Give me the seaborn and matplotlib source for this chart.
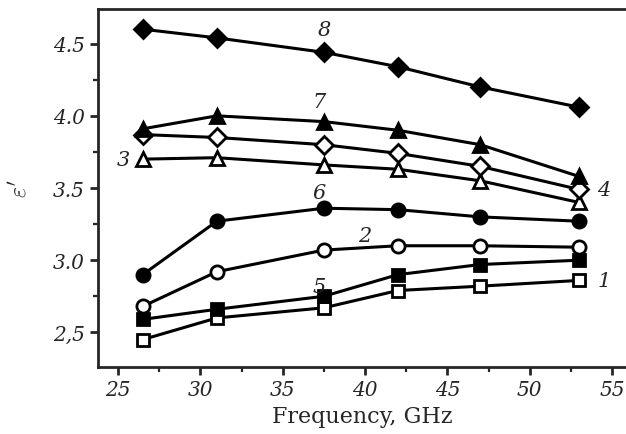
import pandas as pd
import seaborn as sns
import matplotlib.pyplot as plt
from matplotlib.ticker import MultipleLocator, FixedLocator, FixedFormatter

frequency = [26.5, 31.0, 37.5, 42.0, 47.0, 53.0]

eps_1 = [2.45, 2.60, 2.67, 2.79, 2.82, 2.86]
eps_2 = [2.68, 2.92, 3.07, 3.10, 3.10, 3.09]
eps_3 = [3.70, 3.71, 3.66, 3.63, 3.55, 3.40]
eps_4 = [3.87, 3.85, 3.80, 3.74, 3.65, 3.49]
eps_5 = [2.59, 2.66, 2.75, 2.90, 2.97, 3.00]
eps_6 = [2.90, 3.27, 3.36, 3.35, 3.30, 3.27]
eps_7 = [3.91, 4.00, 3.96, 3.90, 3.80, 3.58]
eps_8 = [4.60, 4.54, 4.44, 4.34, 4.20, 4.06]

series_names = ["1", "2", "3", "4", "5", "6", "7", "8"]
series_values = [eps_1, eps_2, eps_3, eps_4, eps_5, eps_6, eps_7, eps_8]

y_ticks = [2.5, 3.0, 3.5, 4.0, 4.5]
y_tick_labels = ["2,5", "3.0", "3.5", "4.0", "4.5"]
x_ticks = [25, 30, 35, 40, 45, 50, 55]

# marker shape and fill for each curve
styles = {
    "1": ("s", "white"), "2": ("o", "white"), "3": ("^", "white"), "4": ("D", "white"),
    "5": ("s", "black"), "6": ("o", "black"), "7": ("^", "black"), "8": ("D", "black"),
}
sizes = {"s": 8, "o": 9.5, "^": 10, "D": 9}

# curve number labels (data coords)
labels = {
    "8": (37.5, 4.60), "7": (37.2, 4.10), "3": (25.3, 3.70), "4": (54.5, 3.49),
    "6": (37.2, 3.47), "2": (40.0, 3.17), "5": (37.2, 2.82), "1": (54.5, 2.86),
}

rows = []
for name, vals in zip(series_names, series_values):
    for f, v in zip(frequency, vals):
        rows.append({"Frequency": f, "eps": v, "curve": name})
df = pd.DataFrame(rows)

sns.set_style("ticks")
plt.rcParams["font.family"] = ["DejaVu Serif"]
plt.rcParams["mathtext.fontset"] = "cm"

fig = plt.figure(figsize=(6.26, 4.35), dpi=100)
ax = fig.add_axes([0.157, 0.154, 0.843, 0.823])

for name in series_names:
    marker, face = styles[name]
    sub = df[df["curve"] == name]
    sns.lineplot(data=sub, x="Frequency", y="eps", ax=ax, color="black", linewidth=2.2,
                 marker=marker, markersize=sizes[marker], markerfacecolor=face,
                 markeredgecolor="black", markeredgewidth=2.0, legend=False)

for name, (x, y) in labels.items():
    ax.text(x, y, name, fontsize=15, style="italic", ha="center", va="center",
            family=["DejaVu Serif"])

ax.set_xlim(23.8, 55.85)
ax.set_ylim(2.26, 4.74)

ax.xaxis.set_major_locator(FixedLocator(x_ticks))
ax.xaxis.set_minor_locator(MultipleLocator(2.5))
ax.yaxis.set_major_locator(FixedLocator(y_ticks))
ax.yaxis.set_major_formatter(FixedFormatter(y_tick_labels))
ax.yaxis.set_minor_locator(MultipleLocator(0.25))

ax.tick_params(which="major", direction="out", length=6, width=2.0, labelsize=14.5)
ax.tick_params(which="minor", direction="out", length=3.5, width=1.6)
for lab in ax.get_xticklabels() + ax.get_yticklabels():
    lab.set_style("italic")

ax.spines["right"].set_visible(False)
for side in ["left", "top", "bottom"]:
    ax.spines[side].set_linewidth(2.0)

ax.set_xlabel("Frequency, GHz", fontsize=16, labelpad=4)
ax.set_ylabel(r"$\varepsilon'$", fontsize=17, labelpad=16)

fig.savefig("out.png", dpi=100)
